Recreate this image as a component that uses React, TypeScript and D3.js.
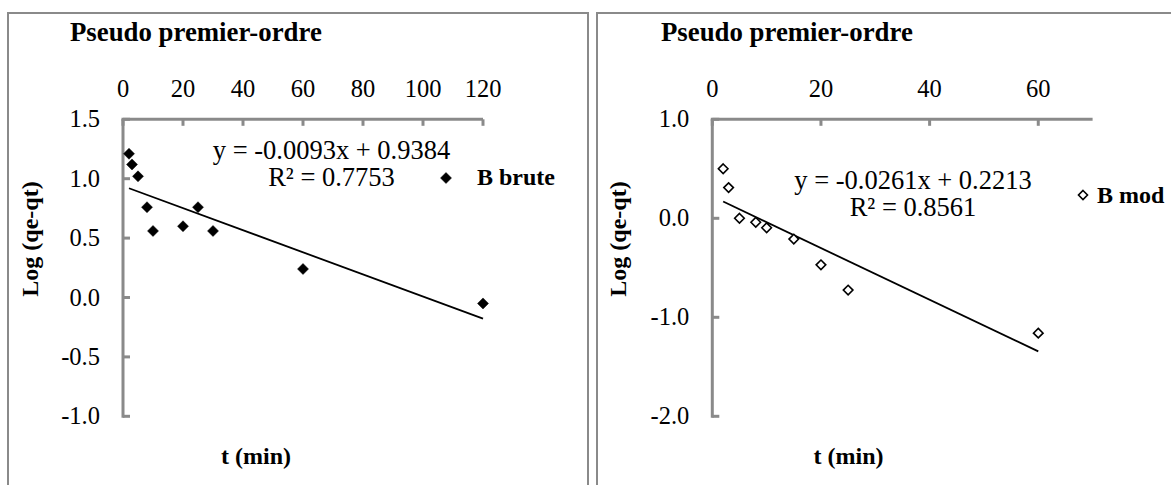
import React from 'react';
import * as d3 from 'd3';

// B brute (left panel)
const bruteTime = [2, 3, 5, 8, 10, 20, 25, 30, 60, 120];
const bruteLog = [1.21, 1.12, 1.02, 0.76, 0.56, 0.6, 0.76, 0.56, 0.24, -0.05];
const bruteFit = [-0.0093, 0.9384]; // slope, intercept
const bruteXTicks = [0, 20, 40, 60, 80, 100, 120];
const bruteYTicks = [1.5, 1.0, 0.5, 0.0, -0.5, -1.0];

// B mod (right panel)
const modTime = [2, 3, 5, 8, 10, 15, 20, 25, 60];
const modLog = [0.5, 0.31, 0.0, -0.04, -0.095, -0.21, -0.47, -0.725, -1.16];
const modFit = [-0.0261, 0.2213];
const modXTicks = [0, 20, 40, 60];
const modYTicks = [1.0, 0.0, -1.0, -2.0];

const titleText = 'Pseudo premier-ordre';
const yTitle = 'Log (qe-qt)';
const xTitle = 't (min)';

const FONT = '"Liberation Serif", "Times New Roman", serif';
const AXIS = '#8a8a8a';

const panels = [
  {
    name: 'B brute',
    time: bruteTime,
    logs: bruteLog,
    fit: bruteFit,
    r2: '0.7753',
    xTicks: bruteXTicks,
    yTicks: bruteYTicks,
    xDomain: [0, 120],
    yDomain: [-1, 1.5],
    frame: [8, 13, 588, 520],
    plot: { left: 123, right: 483, top: 119.3, bottom: 416.3 },
    titleX: 70,
    yTitleX: 38,
    xTitleX: 256,
    eqX: 331.5,
    eqY: 158.5,
    legend: { mx: 446, my: 178, tx: 477, ty: 185 },
    filled: true,
  },
  {
    name: 'B mod',
    time: modTime,
    logs: modLog,
    fit: modFit,
    r2: '0.8561',
    xTicks: modXTicks,
    yTicks: modYTicks,
    xDomain: [0, 70],
    yDomain: [-2, 1],
    frame: [597, 13, 1200, 520],
    plot: { left: 712.3, right: 1092.6, top: 119.3, bottom: 416.3 },
    titleX: 661,
    yTitleX: 626,
    xTitleX: 848.5,
    eqX: 913,
    eqY: 188.5,
    legend: { mx: 1083, my: 195, tx: 1097, ty: 203 },
    filled: false,
  },
];

const diamond = (cx: number, cy: number, r: number) =>
  `M${cx},${cy - r}L${cx + r},${cy}L${cx},${cy + r}L${cx - r},${cy}Z`;

const fmt = (v: number) => v.toFixed(1);
const fmtCoef = (v: number) => (v < 0 ? '-' : '') + Math.abs(v).toFixed(4);

const Panel = ({ p }: { p: any }) => {
  const x = d3.scaleLinear().domain(p.xDomain).range([p.plot.left, p.plot.right]);
  const y = d3.scaleLinear().domain(p.yDomain).range([p.plot.bottom, p.plot.top]);
  const [x0, y0, x1, y1] = p.frame;
  const tMin = d3.min(p.time) as number;
  const tMax = d3.max(p.time) as number;
  const fitLine = d3.line<number>()
    .x(t => x(t))
    .y(t => y(p.fit[0] * t + p.fit[1]));
  const yTop = y(p.yDomain[1]);
  const xLeft = x(p.xDomain[0]);
  const eq = `y = ${fmtCoef(p.fit[0])}x + ${fmtCoef(p.fit[1])}`;

  return (
    <g fontFamily={FONT} fill="#000">
      <rect x={x0} y={y0} width={x1 - x0} height={y1 - y0} fill="#fff" stroke={AXIS} strokeWidth={2} />
      <text x={p.titleX} y={41} fontSize={26.8} fontWeight="bold">{titleText}</text>

      {/* top x axis */}
      <line x1={xLeft - 1.5} x2={x(p.xDomain[1])} y1={yTop} y2={yTop} stroke={AXIS} strokeWidth={3} />
      {p.xTicks.map((t: number) => (
        <g key={'xt' + t}>
          <line x1={x(t)} x2={x(t)} y1={yTop} y2={yTop + 6.5} stroke={AXIS} strokeWidth={3} />
          <text x={x(t)} y={96.5} fontSize={24.5} textAnchor="middle">{t}</text>
        </g>
      ))}

      {/* left y axis */}
      <line x1={xLeft} x2={xLeft} y1={yTop} y2={y(p.yDomain[0]) + 1.5} stroke={AXIS} strokeWidth={3} />
      {p.yTicks.map((v: number) => (
        <g key={'yt' + v}>
          <line x1={xLeft} x2={xLeft + 7} y1={y(v)} y2={y(v)} stroke={AXIS} strokeWidth={3} />
          <text x={xLeft - 23} y={y(v)} dy="0.33em" fontSize={24.5} textAnchor="end">{fmt(v)}</text>
        </g>
      ))}

      <text transform={`translate(${p.yTitleX},239) rotate(-90)`} fontSize={24} fontWeight="bold" textAnchor="middle">{yTitle}</text>
      <text x={p.xTitleX} y={464} fontSize={24} fontWeight="bold" textAnchor="middle">{xTitle}</text>

      {/* trendline */}
      <path d={fitLine([tMin, tMax]) || ''} fill="none" stroke="#000" strokeWidth={1.8} />

      {p.time.map((t: number, i: number) => (
        <path key={'pt' + i} d={diamond(x(t), y(p.logs[i]), p.filled ? 5.5 : 4.8)}
          fill={p.filled ? '#000' : '#fff'} stroke="#000" strokeWidth={p.filled ? 0.5 : 1.6} />
      ))}

      <text x={p.eqX} y={p.eqY} fontSize={26.5} textAnchor="middle">{eq}</text>
      <text x={p.eqX} y={p.eqY + 27.5} fontSize={26.5} textAnchor="middle">{`R² = ${p.r2}`}</text>

      <path d={diamond(p.legend.mx, p.legend.my, p.filled ? 5.5 : 4.5)}
        fill={p.filled ? '#000' : '#fff'} stroke="#000" strokeWidth={p.filled ? 0.5 : 1.6} />
      <text x={p.legend.tx} y={p.legend.ty} fontSize={24} fontWeight="bold">{p.name}</text>
    </g>
  );
};

export default function App() {
  return (
    <svg width={1171} height={485} style={{ position: 'absolute', left: 0, top: 0, display: 'block', background: '#fff' }}>
      <rect width={1171} height={485} fill="#fff" />
      {panels.map(p => <Panel key={p.name} p={p} />)}
    </svg>
  );
}
